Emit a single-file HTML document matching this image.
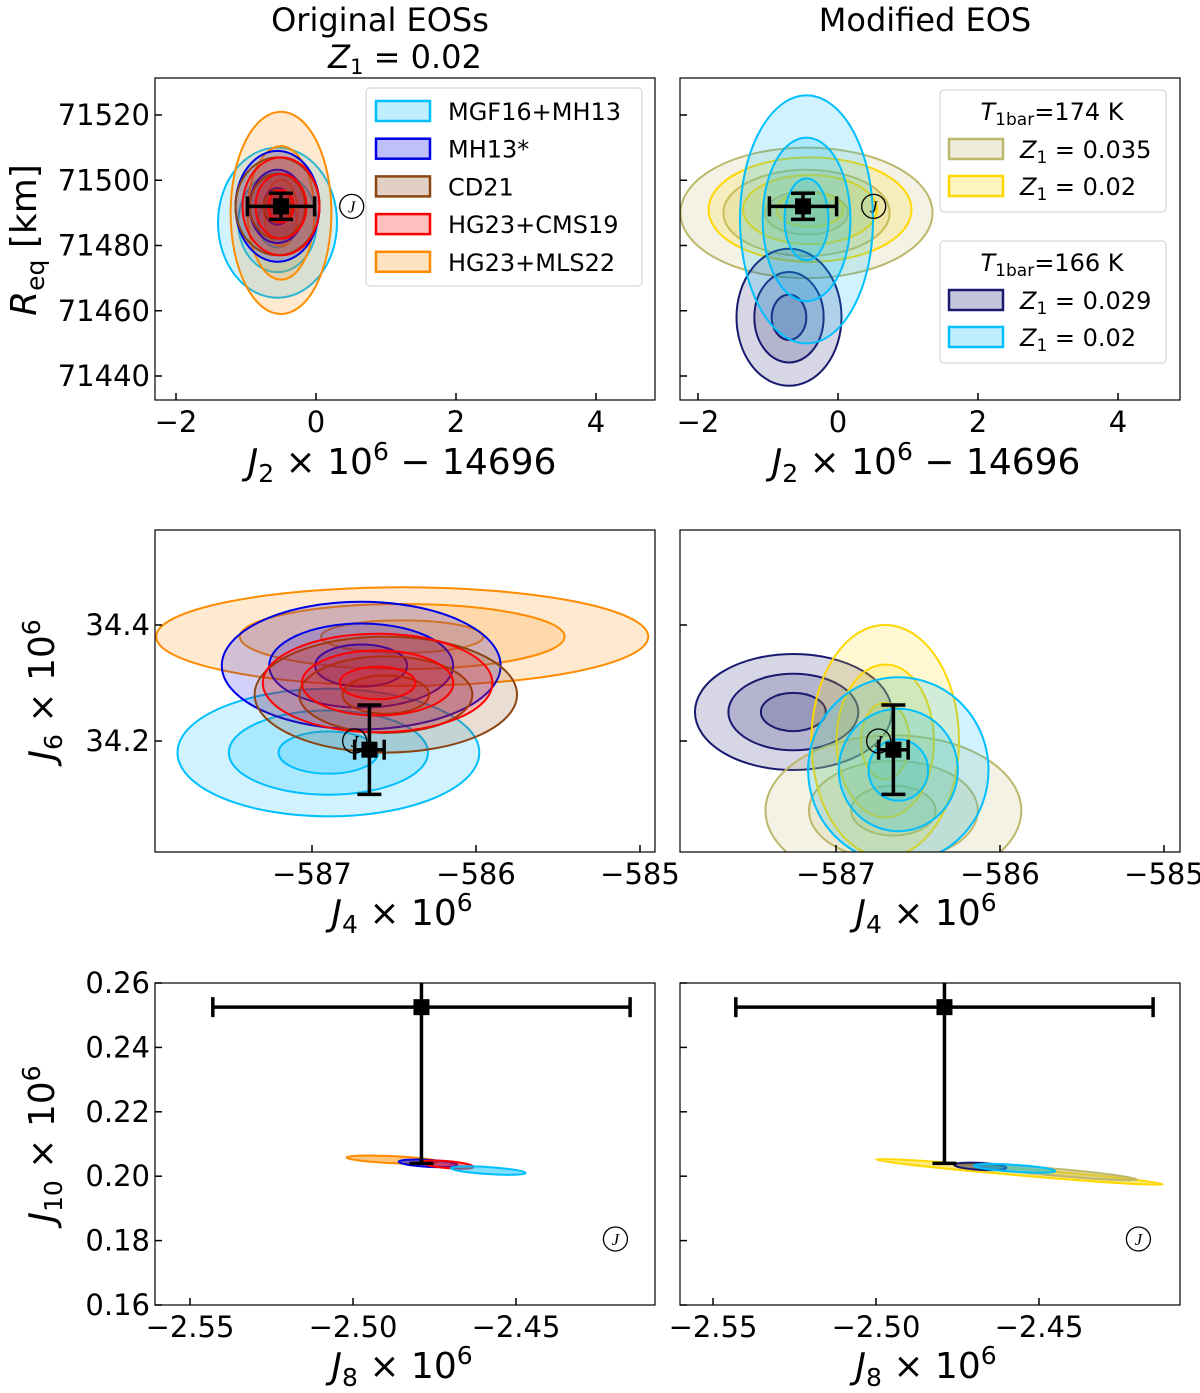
<!DOCTYPE html>
<html><head><meta charset="utf-8">
<style>
html,body{margin:0;padding:0;background:#fff;}
svg{display:block;font-family:"DejaVu Sans","Liberation Sans",sans-serif;}
</style></head>
<body>
<svg id="fig" width="1200" height="1393" viewBox="0 0 1200 1393" xmlns="http://www.w3.org/2000/svg">
<text x="380" y="31" font-size="32" text-anchor="middle">Original EOSs</text>
<text x="405" y="68" font-size="32" text-anchor="middle"><tspan font-style="italic">Z</tspan><tspan font-size="21" dy="6">1</tspan><tspan dy="-6"> = 0.02</tspan></text>
<text x="925" y="31" font-size="32" text-anchor="middle">Modified EOS</text>
<g id="plots"></g>
</svg>
<script>
// ---------- data ----------
const colors = {lb:"#00bfff", bl:"#0000e6", br:"#8b4513", rd:"#ff0000", or:"#ff8c00", kh:"#bdb76b", yl:"#ffd700", nv:"#191970"};
// panel contours: [colorKey, cx, cy, rx, ry]
const topLeftContours = [["lb",-0.55,71487,0.85,23],["or",-0.5,71490,0.72,31],["bl",-0.55,71492,0.6,17],["br",-0.55,71492,0.6,15],["rd",-0.5,71492,0.55,15]];
const topRightContours = [["kh",-0.45,71490,1.8,20],["yl",-0.4,71491,1.45,16],["nv",-0.7,71458,0.75,21],["lb",-0.45,71488,0.95,38]];
const midLeftContours = [["or",-586.45,34.38,1.5,0.085],["lb",-586.9,34.18,0.92,0.11],["bl",-586.7,34.33,0.85,0.11],["br",-586.55,34.28,0.8,0.1],["rd",-586.6,34.3,0.7,0.085]];
const midRightContours = [["nv",-587.26,34.25,0.6,0.1],["kh",-586.65,34.08,0.78,0.13],["yl",-586.7,34.2,0.45,0.2],["lb",-586.62,34.15,0.55,0.16]];
// bottom streaks: [colorKey, x1, y1, x2, y2]
const botLeftStreaks = [["or",-2.502,0.2058,-2.474,0.2045],["bl",-2.486,0.2045,-2.468,0.2035],["rd",-2.479,0.2043,-2.463,0.2029],["lb",-2.47,0.2025,-2.447,0.2010]];
const botRightStreaks = [["yl",-2.50,0.2052,-2.412,0.1975],["kh",-2.47,0.2035,-2.42,0.1990],["nv",-2.476,0.2035,-2.46,0.2026],["lb",-2.47,0.2033,-2.445,0.2016]];
// observation points: [x, y, xerr, yerrLow, yerrHigh]
const obsTop = [-0.5, 71492, 0.48, 4, 4];
const obsMid = [-586.65, 34.185, 0.09, 0.077, 0.077];
const obsBot = [-2.479, 0.2525, 0.064, 0.0485, 0.02];
const jSymTop = [0.51, 71492];
const jSymMid = [-586.74, 34.2];
const jSymBot = [-2.4195, 0.1805];
const xTicksTop = [-2,0,2,4];
const yTicksTop = [71440,71460,71480,71500,71520];
const xTicksMid = [-587,-586,-585];
const yTicksMid = [34.2,34.4];
const xTicksBot = [-2.55,-2.50,-2.45];
const yTicksBot = [0.16,0.18,0.20,0.22,0.24,0.26];
const legendLeftLabels = ["MGF16+MH13","MH13*","CD21","HG23+CMS19","HG23+MLS22"];
const legendLeftKeys = ["lb","bl","br","rd","or"];

// ---------- helpers ----------
const NS="http://www.w3.org/2000/svg";
const root=document.getElementById('plots');
function mk(tag,attrs,parent){const e=document.createElementNS(NS,tag);for(const k in attrs)e.setAttribute(k,attrs[k]);(parent||root).appendChild(e);return e;}
function lin(d0,d1,p0,p1){return v=>p0+(v-d0)*(p1-p0)/(d1-d0);}

function panel(name,x0,y0,w,h,sx,sy,xt,yt,showY,fmtX,fmtY){
  const g=mk('g',{});
  
  
  const cp=name+'-clip';
  const c=mk('clipPath',{id:cp},g);mk('rect',{x:x0,y:y0,width:w,height:h},c);
  const plot=mk('g',{'clip-path':'url(#'+cp+')'},g);
  xt.forEach(t=>{const x=sx(t);
    const l=mk('line',{x1:x,x2:x,y1:y0+h,y2:y0+h-7,stroke:'#000','stroke-width':1.5},g);
    
    
    const tx=mk('text',{x:x,y:y0+h+32,'font-size':29,'text-anchor':'middle'},g);tx.textContent=fmtX(t);
    
    
  });
  yt.forEach(t=>{const y=sy(t);
    const l=mk('line',{x1:x0,x2:x0+7,y1:y,y2:y,stroke:'#000','stroke-width':1.5},g);
    
    
    if(showY){const tx=mk('text',{x:x0-5,y:y+10,'font-size':29,'text-anchor':'end'},g);tx.textContent=fmtY(t);
      
      }
  });
  const fr=mk('rect',{x:x0,y:y0,width:w,height:h,fill:'none',stroke:'#000','stroke-width':1.2},g);
  
  
  return plot;
}
function contours(plot,list,sx,sy){
  list.forEach(([k,cx,cy,rx,ry])=>{
    [1,0.66,0.33].forEach(s=>{
      const e=mk('ellipse',{cx:sx(cx),cy:sy(cy),rx:Math.abs(sx(cx+rx*s)-sx(cx)),ry:Math.abs(sy(cy+ry*s)-sy(cy)),fill:colors[k],'fill-opacity':0.18,stroke:colors[k],'stroke-width':2},plot);
      
      
    });
  });
}
function streaks(plot,list,sx,sy){
  list.forEach(([k,x1,y1,x2,y2])=>{
    const px1=sx(x1),py1=sy(y1),px2=sx(x2),py2=sy(y2);
    const cx=(px1+px2)/2,cy=(py1+py2)/2,len=Math.hypot(px2-px1,py2-py1)/2,ang=Math.atan2(py2-py1,px2-px1)*180/Math.PI;
    const e=mk('ellipse',{cx:cx,cy:cy,rx:len,ry:3.5,fill:colors[k],'fill-opacity':0.5,stroke:colors[k],'stroke-width':2,transform:`rotate(${ang} ${cx} ${cy})`},plot);
    
    
  });
}
function obs(plot,o,sx,sy){
  const g=mk('g',{},plot);
  
  
  const x=sx(o[0]),y=sy(o[1]),xa=sx(o[0]-o[2]),xb=sx(o[0]+o[2]),ya=sy(o[1]-o[3]),yb=sy(o[1]+o[4]);
  const st={stroke:'#000','stroke-width':3.5};
  mk('line',Object.assign({x1:xa,x2:xb,y1:y,y2:y},st),g);
  mk('line',Object.assign({x1:x,x2:x,y1:ya,y2:yb},st),g);
  mk('line',Object.assign({x1:xa,x2:xa,y1:y-10,y2:y+10},st),g);
  mk('line',Object.assign({x1:xb,x2:xb,y1:y-10,y2:y+10},st),g);
  mk('line',Object.assign({x1:x-12,x2:x+12,y1:ya,y2:ya},st),g);
  mk('line',Object.assign({x1:x-12,x2:x+12,y1:yb,y2:yb},st),g);
  mk('rect',{x:x-8,y:y-8,width:16,height:16,fill:'#000'},g);
}
function jsym(plot,p,sx,sy){
  const g=mk('g',{},plot);
  
  
  const x=sx(p[0]),y=sy(p[1]);
  mk('circle',{cx:x,cy:y,r:12,fill:'none',stroke:'#000','stroke-width':1.3},g);
  const t=mk('text',{x:x,y:y+6,'font-size':17,'font-style':'italic','text-anchor':'middle','font-family':'"Liberation Serif",serif'},g);t.textContent='J';
}
const minus=s=>s.replace('-','\u2212');
// ---------- top row ----------
const sxTL=lin(0,2,316,456), syT=lin(71440,71520,376,115);
let p=panel('panel-top-left',155,78,500,322,sxTL,syT,xTicksTop,yTicksTop,true,t=>minus(String(t)),t=>String(t));
contours(p,topLeftContours,sxTL,syT);obs(p,obsTop,sxTL,syT);jsym(p,jSymTop,sxTL,syT);
const sxTR=lin(0,2,838,978);
p=panel('panel-top-right',680,78,500,322,sxTR,syT,xTicksTop,yTicksTop,false,t=>minus(String(t)),t=>String(t));
contours(p,topRightContours,sxTR,syT);obs(p,obsTop,sxTR,syT);jsym(p,jSymTop,sxTR,syT);
// ---------- middle row ----------
const sxML=lin(-587,-586,312,476), syM=lin(34.2,34.4,741,625);
p=panel('panel-mid-left',155,530,500,322,sxML,syM,xTicksMid,yTicksMid,true,t=>minus(String(t)),t=>t.toFixed(1));
contours(p,midLeftContours,sxML,syM);obs(p,obsMid,sxML,syM);jsym(p,jSymMid,sxML,syM);
const sxMR=lin(-587,-586,836,1000);
p=panel('panel-mid-right',680,530,500,322,sxMR,syM,xTicksMid,yTicksMid,false,t=>minus(String(t)),t=>t.toFixed(1));
contours(p,midRightContours,sxMR,syM);obs(p,obsMid,sxMR,syM);jsym(p,jSymMid,sxMR,syM);
// ---------- bottom row ----------
const sxBL=lin(-2.55,-2.45,190,516), syB=lin(0.16,0.26,1305,983);
p=panel('panel-bottom-left',155,983,500,322,sxBL,syB,xTicksBot,yTicksBot,true,t=>minus(t.toFixed(2)),t=>t.toFixed(2));
streaks(p,botLeftStreaks,sxBL,syB);obs(p,obsBot,sxBL,syB);jsym(p,jSymBot,sxBL,syB);
const sxBR=lin(-2.55,-2.45,713,1039);
p=panel('panel-bottom-right',680,983,500,322,sxBR,syB,xTicksBot,yTicksBot,false,t=>minus(t.toFixed(2)),t=>t.toFixed(2));
streaks(p,botRightStreaks,sxBR,syB);obs(p,obsBot,sxBR,syB);jsym(p,jSymBot,sxBR,syB);

// ---------- legends ----------
function legendBox(name,x,y,w,h){const r=mk('rect',{x:x,y:y,width:w,height:h,rx:4,fill:'#fff','fill-opacity':0.85,stroke:'#ccc','stroke-width':1});
  
  }
function legendEntry(k,px,tx,y,html){
  const g=mk('g',{});
  
  
  mk('rect',{x:px,y:y-10,width:54,height:20,fill:colors[k],'fill-opacity':0.25,stroke:colors[k],'stroke-width':2.5},g);
  const t=mk('text',{x:tx,y:y+9,'font-size':24},g);t.innerHTML=html;
}
legendBox('legend-left',366,88,276,198);
legendLeftLabels.forEach((l,i)=>legendEntry(legendLeftKeys[i],376,448,111+i*37.7,l));
legendBox('legend-right-174k',940,90,226,122);
let t=mk('text',{x:1052,y:120,'font-size':24,'text-anchor':'middle'});t.innerHTML='<tspan font-style="italic">T</tspan><tspan font-size="17" dy="5">1bar</tspan><tspan dy="-5">=174 K</tspan>';
legendEntry('kh',949,1020,149,'<tspan font-style="italic">Z</tspan><tspan font-size="17" dy="5">1</tspan><tspan dy="-5"> = 0.035</tspan>');
legendEntry('yl',949,1020,186,'<tspan font-style="italic">Z</tspan><tspan font-size="17" dy="5">1</tspan><tspan dy="-5"> = 0.02</tspan>');
legendBox('legend-right-166k',940,241,226,122);
t=mk('text',{x:1052,y:271,'font-size':24,'text-anchor':'middle'});t.innerHTML='<tspan font-style="italic">T</tspan><tspan font-size="17" dy="5">1bar</tspan><tspan dy="-5">=166 K</tspan>';
legendEntry('nv',949,1020,300,'<tspan font-style="italic">Z</tspan><tspan font-size="17" dy="5">1</tspan><tspan dy="-5"> = 0.029</tspan>');
legendEntry('lb',949,1020,337,'<tspan font-style="italic">Z</tspan><tspan font-size="17" dy="5">1</tspan><tspan dy="-5"> = 0.02</tspan>');

// ---------- axis titles ----------
function xt(name,x,y,html){const e=mk('text',{x:x,y:y,'font-size':36,'text-anchor':'middle'});e.innerHTML=html;
  
  }
function yt(name,x,y,html){const e=mk('text',{x:0,y:0,'font-size':36,'text-anchor':'middle',transform:`translate(${x},${y}) rotate(-90)`});e.innerHTML=html;
  
  }
const j2='<tspan font-style="italic">J</tspan><tspan font-size="25" dy="8">2</tspan><tspan dy="-8"> × 10</tspan><tspan font-size="25" dy="-14">6</tspan><tspan dy="14"> − 14696</tspan>';
xt('x-axis-title-top-left',402,474,j2);xt('x-axis-title-top-right',926,474,j2);
const j4='<tspan font-style="italic">J</tspan><tspan font-size="25" dy="8">4</tspan><tspan dy="-8"> × 10</tspan><tspan font-size="25" dy="-14">6</tspan>';
xt('x-axis-title-mid-left',402,925,j4);xt('x-axis-title-mid-right',926,925,j4);
const j8='<tspan font-style="italic">J</tspan><tspan font-size="25" dy="8">8</tspan><tspan dy="-8"> × 10</tspan><tspan font-size="25" dy="-14">6</tspan>';
xt('x-axis-title-bottom-left',402,1378,j8);xt('x-axis-title-bottom-right',926,1378,j8);
yt('y-axis-title-top',36,240,'<tspan font-style="italic">R</tspan><tspan font-size="25" dy="8">eq</tspan><tspan dy="-8"> [km]</tspan>');
yt('y-axis-title-mid',54,690,'<tspan font-style="italic">J</tspan><tspan font-size="25" dy="8">6</tspan><tspan dy="-8"> × 10</tspan><tspan font-size="25" dy="-14">6</tspan>');
yt('y-axis-title-bottom',54,1144,'<tspan font-style="italic">J</tspan><tspan font-size="25" dy="8">10</tspan><tspan dy="-8"> × 10</tspan><tspan font-size="25" dy="-14">6</tspan>');
</script>
</body></html>
